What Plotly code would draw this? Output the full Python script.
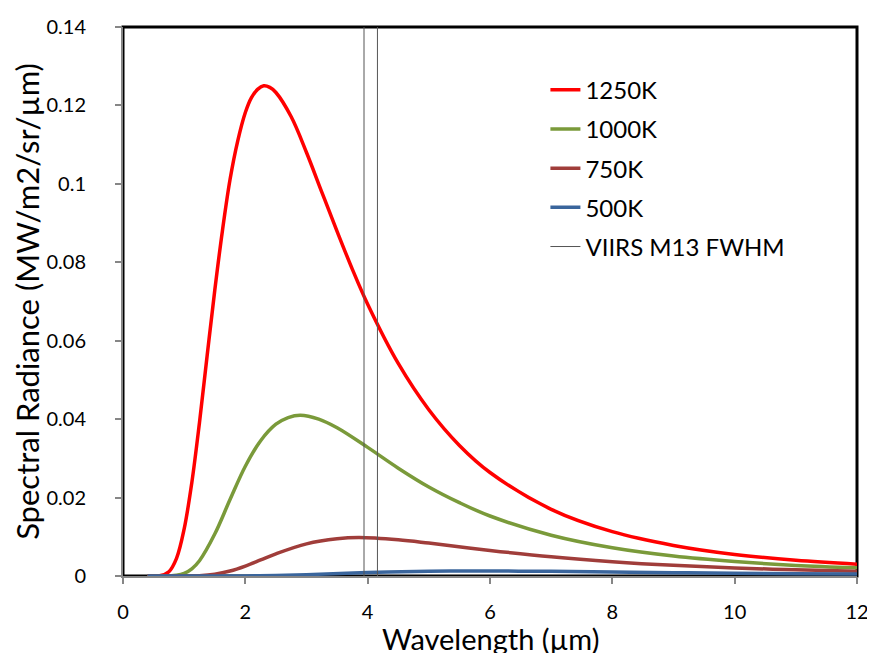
import plotly.graph_objects as go

# ---- data ----
wl_1250 = [0.4, 0.6, 0.75, 0.875, 1.0, 1.125, 1.25, 1.375, 1.5, 1.625, 1.75, 1.875, 2.0, 2.1, 2.2, 2.3, 2.4, 2.5, 2.75, 3.0, 3.25, 3.5, 3.75, 4.0, 4.5, 5.0, 5.5, 6, 7, 8, 9, 10, 11, 12]
rad_1250 = [0.0, 0.00007, 0.0011, 0.0045, 0.0120, 0.0238, 0.0391, 0.0561, 0.0728, 0.0880, 0.1011, 0.1109, 0.1182, 0.1220, 0.1241, 0.1250, 0.1246, 0.1233, 0.1171, 0.1080, 0.0979, 0.0879, 0.0782, 0.0693, 0.0542, 0.0424, 0.0333, 0.0264, 0.0170, 0.0113, 0.0078, 0.0055, 0.0040, 0.0030]

wl_1000 = [0.4, 0.75, 0.875, 1.0, 1.125, 1.25, 1.5, 1.75, 2.0, 2.25, 2.5, 2.7, 2.9, 3.2, 3.5, 4.0, 4.5, 5.0, 5.5, 6, 7, 8, 9, 10, 11, 12]
rad_1000 = [0.0, 0.00002, 0.00017, 0.00067, 0.00184, 0.0039, 0.0107, 0.0195, 0.0280, 0.0345, 0.0387, 0.0404, 0.0410, 0.0400, 0.0378, 0.0328, 0.0275, 0.0227, 0.0187, 0.0153, 0.0104, 0.0072, 0.0051, 0.0037, 0.0027, 0.0021]

wl_750 = [0.4, 1.0, 1.25, 1.5, 1.75, 2.0, 2.25, 2.5, 3.0, 3.5, 3.86, 4.5, 5.0, 6, 7, 8, 9, 10, 11, 12]
rad_750 = [0.0, 0.00001, 0.00008, 0.00044, 0.00126, 0.00254, 0.00409, 0.00566, 0.0082, 0.00949, 0.00979, 0.00922, 0.00839, 0.00653, 0.00489, 0.00364, 0.00271, 0.00205, 0.00157, 0.00121]

wl_500 = [0.4, 1.5, 2.0, 2.5, 3.0, 4.0, 5.0, 5.8, 7, 8, 9, 10, 11, 12]
rad_500 = [0.0, 0.0, 0.00002, 0.00012, 0.00034, 0.00087, 0.00121, 0.00128, 0.00118, 0.00102, 0.00086, 0.00071, 0.00058, 0.00048]

m13_edges = [3.94, 4.16]
y_range = [0, 0.14]

series = [
    ("1250K", wl_1250, rad_1250, "#FF0000"),
    ("1000K", wl_1000, rad_1000, "#7A9A3A"),
    ("750K", wl_750, rad_750, "#A03D3A"),
    ("500K", wl_500, rad_500, "#3A659C"),
]

FONT = "Lato, 'Open Sans', sans-serif"

fig = go.Figure()
for i, (name, x, y, c) in enumerate(series):
    fig.add_trace(go.Scatter(
        x=x, y=y, name=name, mode="lines",
        line=dict(color=c, width=3.5, shape="spline", smoothing=1.0),
        legendgroup=f"g{i}",
    ))

vx, vy = [], []
for e in m13_edges:
    vx += [e, e, None]
    vy += [y_range[0], y_range[1], None]
fig.add_trace(go.Scatter(
    x=vx, y=vy, name="VIIRS M13 FWHM", mode="lines",
    line=dict(color="#555555", width=1), legendgroup="g4",
))

fig.add_shape(type="rect", xref="paper", yref="paper", x0=0, y0=0, x1=1, y1=1,
              line=dict(color="black", width=3), layer="below")

fig.add_annotation(text="Wavelength (µm)", xref="paper", yref="paper",
                   x=0.5, y=-0.114, xanchor="center", yanchor="middle",
                   showarrow=False, font=dict(size=29, family=FONT, color="black"))

fig.update_layout(
    width=867, height=645,
    margin=dict(l=115, r=18, t=19, b=77),
    paper_bgcolor="white", plot_bgcolor="white",
    font=dict(family=FONT, size=20, color="black"),
    showlegend=True,
    legend=dict(x=0.5755, y=0.926, xanchor="left", yanchor="top",
                font=dict(size=24), traceorder="grouped", tracegroupgap=5,
                bgcolor="rgba(0,0,0,0)", itemwidth=30),
    xaxis=dict(range=[0, 12], dtick=2, showgrid=False, zeroline=False,
               showline=True, linecolor="#868686", linewidth=2,
               ticks="outside", tickcolor="#868686", ticklen=6, tickwidth=1.5,
               ticklabelstandoff=11, automargin=False),
    yaxis=dict(range=y_range, dtick=0.02, showgrid=False, zeroline=False,
               showline=True, linecolor="#868686", linewidth=2,
               ticks="outside", tickcolor="#868686", ticklen=6, tickwidth=1.5,
               ticklabelstandoff=25, automargin=False,
               title=dict(text="Spectral Radiance (MW/m2/sr/µm)", font=dict(size=31), standoff=9)),
)

fig.write_html("out.html")
